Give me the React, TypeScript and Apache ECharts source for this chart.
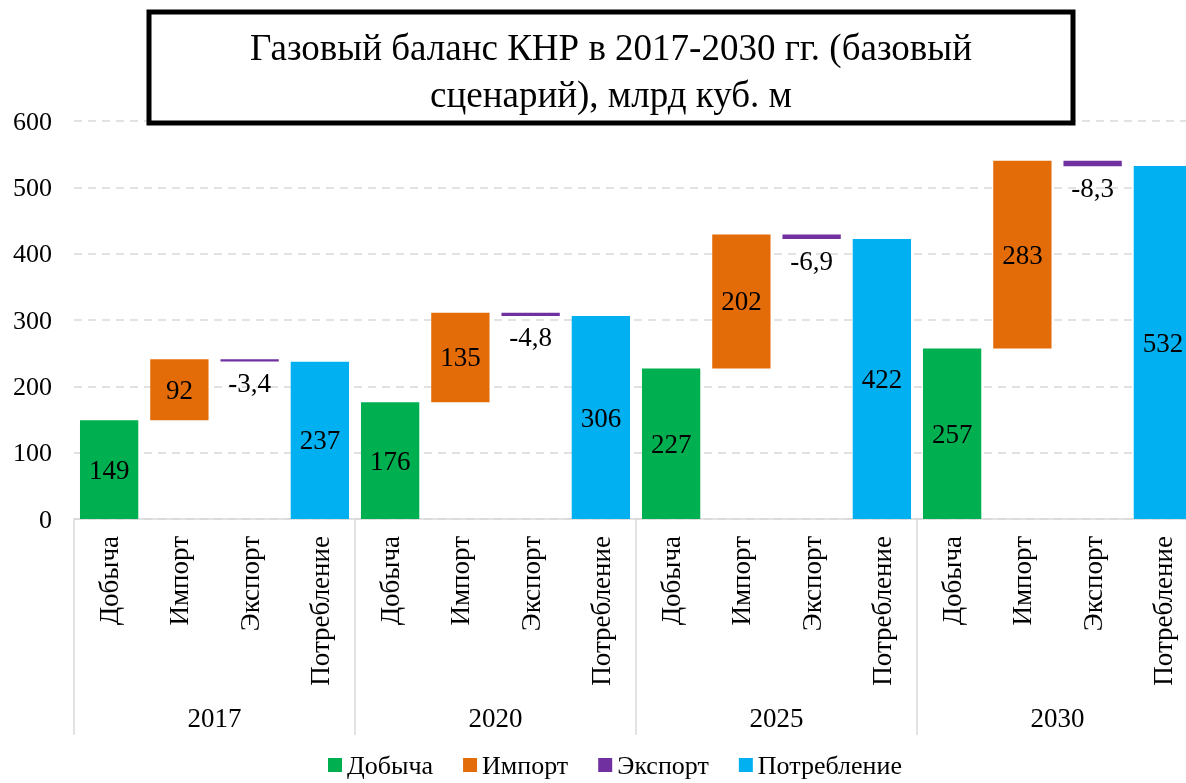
import React, { useEffect, useRef } from "react";
import * as echarts from "echarts";

const years = ["2017", "2020", "2025", "2030"];
const itemNames = ["Добыча", "Импорт", "Экспорт", "Потребление"];
const production = [149, 176, 227, 257];
const imports = [92, 135, 202, 283];
const exports = [-3.4, -4.8, -6.9, -8.3];
const consumption = [237, 306, 422, 532];
const yTicks = { min: 0, max: 600, interval: 100 };

const FONT = "Liberation Serif";
const COLORS = {
  prod: "#00B050",
  imp: "#E36C09",
  exp: "#7030A0",
  cons: "#00B0F0",
};

export default function App() {
  const ref = useRef<HTMLDivElement>(null);
  useEffect(() => {
    if (!ref.current) return;
    const chart = echarts.init(ref.current, undefined, { renderer: "svg" });

    const categories: string[] = [];
    years.forEach(() => itemNames.forEach((n) => categories.push(n)));
    const n = categories.length;
    const empty = () => new Array(n).fill("-") as (number | string)[];

    const base = empty();
    const sProd = empty();
    const sImp = empty();
    const sExp = empty();
    const sCons = empty();
    years.forEach((_, g) => {
      const i = g * 4;
      sProd[i] = production[g];
      base[i + 1] = production[g];
      sImp[i + 1] = imports[g];
      base[i + 2] = production[g] + imports[g] + exports[g];
      sExp[i + 2] = -exports[g];
      sCons[i + 3] = consumption[g];
    });

    const lbl = {
      show: true,
      position: "inside" as const,
      color: "#000",
      fontFamily: FONT,
      fontSize: 27,
    };

    chart.setOption({
      animation: false,
      grid: { left: 74, top: 121, width: 1124, height: 398, containLabel: false },
      legend: {
        data: itemNames,
        left: 323,
        top: 750,
        icon: "rect",
        itemWidth: 14,
        itemHeight: 14,
        itemGap: 30,
        padding: [2, 5, 2, 5],
        textStyle: { fontFamily: FONT, fontSize: 26, color: "#000" },
      },
      xAxis: [
        {
          type: "category",
          data: categories,
          position: "bottom",
          axisLine: { show: true, lineStyle: { color: "#d9d9d9", width: 1.5 } },
          axisTick: { show: false },
          axisLabel: {
            rotate: 90,
            interval: 0,
            margin: 17,
            fontFamily: FONT,
            fontSize: 27,
            color: "#000",
          },
        },
        {
          type: "category",
          data: years,
          position: "bottom",
          axisLine: { show: false },
          axisTick: {
            show: true,
            length: 216,
            lineStyle: { color: "#d9d9d9", width: 1.5 },
          },
          axisLabel: {
            margin: 185,
            fontFamily: FONT,
            fontSize: 27,
            color: "#000",
          },
        },
      ],
      yAxis: {
        type: "value",
        min: yTicks.min,
        max: yTicks.max,
        interval: yTicks.interval,
        axisLine: { show: false },
        axisTick: { show: false },
        splitLine: { lineStyle: { color: "#d9d9d9", type: [8, 6], width: 1.5 } },
        axisLabel: {
          margin: 22,
          fontFamily: FONT,
          fontSize: 26,
          color: "#000",
        },
      },
      series: [
        {
          name: "base",
          type: "bar",
          stack: "w",
          data: base,
          barCategoryGap: "17%",
          itemStyle: { color: "transparent" },
          emphasis: { disabled: true },
          silent: true,
        },
        {
          name: "Добыча",
          type: "bar",
          stack: "w",
          data: sProd,
          itemStyle: { color: COLORS.prod },
          label: lbl,
        },
        {
          name: "Импорт",
          type: "bar",
          stack: "w",
          data: sImp,
          itemStyle: { color: COLORS.imp },
          label: lbl,
        },
        {
          name: "Экспорт",
          type: "bar",
          stack: "w",
          data: sExp,
          itemStyle: { color: COLORS.exp },
          label: {
            ...lbl,
            position: "bottom",
            distance: 8,
            formatter: (p: any) =>
              String(exports[Math.floor(p.dataIndex / 4)]).replace(".", ","),
          },
        },
        {
          name: "Потребление",
          type: "bar",
          stack: "w",
          data: sCons,
          itemStyle: { color: COLORS.cons },
          label: lbl,
        },
      ],
      graphic: [
        {
          type: "rect",
          shape: { x: 149, y: 12, width: 924, height: 111 },
          style: { fill: "#fff", stroke: "#000", lineWidth: 5 },
          z: 100,
        },
        {
          type: "text",
          x: 611,
          y: 71,
          z: 101,
          style: {
            text: "Газовый баланс КНР в 2017-2030 гг. (базовый\nсценарий), млрд куб. м",
            fontFamily: FONT,
            fontSize: 37,
            lineHeight: 47,
            fill: "#000",
            align: "center",
            verticalAlign: "middle",
          },
        },
      ],
    });
    return () => chart.dispose();
  }, []);
  return (
    <div
      style={{
        position: "fixed",
        left: 0,
        top: 0,
        width: 1186,
        height: 783,
        overflow: "hidden",
      }}
    >
      <div ref={ref} style={{ width: 1210, height: 783 }} />
    </div>
  );
}
